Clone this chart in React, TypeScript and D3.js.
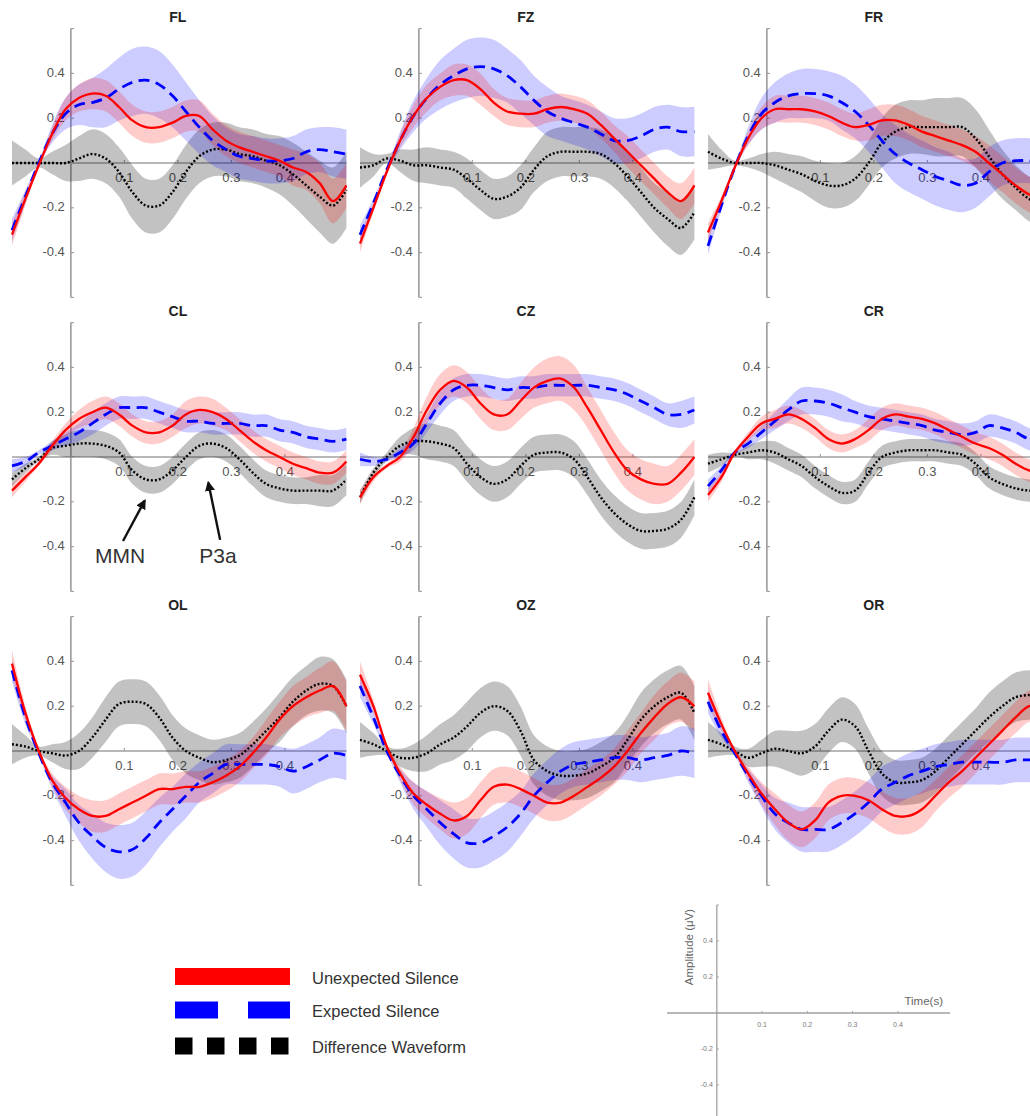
import React from 'react';
import * as d3 from 'd3';

const W = 1030;
const H = 1116;

// sample times (s) shared by every waveform
const TIMES = [-0.11, -0.085, -0.06, -0.035, -0.01, 0.015, 0.04, 0.065, 0.09, 0.115, 0.14, 0.165, 0.19,
  0.215, 0.24, 0.265, 0.29, 0.315, 0.34, 0.365, 0.39, 0.415, 0.44, 0.465, 0.49, 0.515];

const X_TICKS = [0.1, 0.2, 0.3, 0.4];
const Y_TICKS = [-0.6, -0.4, -0.2, 0, 0.2, 0.4, 0.6];
const Y_LABELS = [-0.4, -0.2, 0.2, 0.4];
const LEGEND = ['Unexpected Silence', 'Expected Silence', 'Difference Waveform'];

// ---- frontal ----
const FL_UNEXP = [-0.32, -0.16, -0.01, 0.13, 0.24, 0.29, 0.31, 0.30, 0.25, 0.19, 0.16, 0.16, 0.18, 0.21, 0.21, 0.15, 0.10, 0.07, 0.05, 0.03, 0.01, -0.02, -0.04, -0.09, -0.17, -0.10];
const FL_UNEXP_SE = [0.05, 0.03, 0.01, 0.03, 0.05, 0.06, 0.07, 0.07, 0.07, 0.07, 0.07, 0.07, 0.07, 0.07, 0.07, 0.07, 0.07, 0.07, 0.07, 0.07, 0.07, 0.08, 0.08, 0.09, 0.10, 0.10];
const FL_EXP = [-0.30, -0.15, 0.00, 0.13, 0.22, 0.26, 0.27, 0.29, 0.33, 0.36, 0.37, 0.35, 0.30, 0.23, 0.16, 0.10, 0.06, 0.03, 0.02, 0.01, 0.01, 0.02, 0.05, 0.06, 0.05, 0.04];
const FL_EXP_SE = [0.05, 0.03, 0.01, 0.04, 0.07, 0.09, 0.11, 0.13, 0.14, 0.15, 0.15, 0.15, 0.14, 0.13, 0.12, 0.11, 0.10, 0.10, 0.10, 0.10, 0.10, 0.10, 0.10, 0.10, 0.11, 0.11];
const FL_DIFF = [0.00, 0.00, 0.00, 0.00, 0.00, 0.02, 0.04, 0.02, -0.04, -0.13, -0.19, -0.19, -0.13, -0.04, 0.03, 0.06, 0.06, 0.04, 0.03, 0.01, -0.01, -0.05, -0.10, -0.15, -0.19, -0.12];
const FL_DIFF_SE = [0.10, 0.06, 0.02, 0.05, 0.08, 0.10, 0.11, 0.11, 0.11, 0.12, 0.12, 0.12, 0.12, 0.12, 0.12, 0.12, 0.12, 0.12, 0.12, 0.12, 0.13, 0.14, 0.15, 0.16, 0.17, 0.17];

const FZ_UNEXP = [-0.36, -0.20, -0.04, 0.10, 0.21, 0.29, 0.34, 0.37, 0.37, 0.33, 0.27, 0.23, 0.22, 0.22, 0.24, 0.25, 0.24, 0.22, 0.17, 0.11, 0.05, -0.01, -0.07, -0.13, -0.17, -0.10];
const FZ_UNEXP_SE = [0.04, 0.02, 0.01, 0.03, 0.05, 0.06, 0.06, 0.07, 0.07, 0.07, 0.06, 0.06, 0.06, 0.06, 0.06, 0.06, 0.06, 0.06, 0.06, 0.06, 0.07, 0.07, 0.07, 0.07, 0.08, 0.08];
const FZ_EXP = [-0.32, -0.18, -0.03, 0.10, 0.21, 0.29, 0.35, 0.39, 0.42, 0.43, 0.42, 0.39, 0.34, 0.28, 0.23, 0.20, 0.18, 0.16, 0.13, 0.10, 0.10, 0.12, 0.15, 0.16, 0.14, 0.14];
const FZ_EXP_SE = [0.04, 0.02, 0.01, 0.04, 0.07, 0.09, 0.11, 0.12, 0.13, 0.13, 0.13, 0.12, 0.12, 0.11, 0.11, 0.10, 0.10, 0.10, 0.10, 0.10, 0.10, 0.10, 0.10, 0.10, 0.11, 0.11];
const FZ_DIFF = [-0.02, -0.01, 0.02, 0.01, -0.01, -0.01, -0.02, -0.03, -0.07, -0.12, -0.16, -0.15, -0.11, -0.03, 0.03, 0.05, 0.05, 0.05, 0.04, 0.00, -0.06, -0.13, -0.20, -0.25, -0.29, -0.22];
const FZ_DIFF_SE = [0.09, 0.05, 0.02, 0.05, 0.07, 0.08, 0.08, 0.08, 0.09, 0.09, 0.09, 0.09, 0.10, 0.10, 0.11, 0.11, 0.11, 0.11, 0.11, 0.11, 0.11, 0.11, 0.11, 0.12, 0.12, 0.12];

const FR_UNEXP = [-0.31, -0.17, -0.02, 0.11, 0.20, 0.24, 0.24, 0.24, 0.23, 0.21, 0.18, 0.16, 0.17, 0.19, 0.19, 0.17, 0.14, 0.12, 0.10, 0.08, 0.05, 0.00, -0.05, -0.10, -0.14, -0.16];
const FR_UNEXP_SE = [0.04, 0.02, 0.01, 0.03, 0.05, 0.06, 0.06, 0.06, 0.06, 0.06, 0.06, 0.06, 0.07, 0.07, 0.07, 0.07, 0.07, 0.07, 0.07, 0.07, 0.07, 0.08, 0.08, 0.08, 0.08, 0.08];
const FR_EXP = [-0.37, -0.19, -0.02, 0.12, 0.22, 0.27, 0.30, 0.31, 0.31, 0.30, 0.27, 0.23, 0.17, 0.10, 0.04, 0.00, -0.03, -0.06, -0.08, -0.10, -0.09, -0.04, 0.00, 0.01, 0.01, 0.00];
const FR_EXP_SE = [0.04, 0.02, 0.01, 0.04, 0.07, 0.09, 0.10, 0.11, 0.11, 0.11, 0.12, 0.12, 0.12, 0.12, 0.13, 0.13, 0.13, 0.13, 0.13, 0.12, 0.11, 0.11, 0.10, 0.10, 0.10, 0.10];
const FR_DIFF = [0.05, 0.02, 0.00, 0.00, 0.00, -0.01, -0.03, -0.05, -0.08, -0.10, -0.10, -0.07, 0.00, 0.09, 0.14, 0.16, 0.16, 0.16, 0.16, 0.16, 0.11, 0.03, -0.05, -0.11, -0.16, -0.18];
const FR_DIFF_SE = [0.08, 0.04, 0.01, 0.02, 0.04, 0.06, 0.07, 0.08, 0.09, 0.10, 0.10, 0.10, 0.10, 0.11, 0.12, 0.12, 0.12, 0.13, 0.13, 0.13, 0.13, 0.12, 0.11, 0.10, 0.10, 0.10];

// ---- central ----
const CL_UNEXP = [-0.15, -0.09, -0.03, 0.05, 0.12, 0.17, 0.20, 0.22, 0.19, 0.14, 0.11, 0.11, 0.14, 0.19, 0.21, 0.20, 0.17, 0.12, 0.07, 0.03, 0.00, -0.03, -0.05, -0.07, -0.07, -0.02];
const CL_UNEXP_SE = [0.03, 0.02, 0.01, 0.02, 0.03, 0.04, 0.05, 0.05, 0.05, 0.05, 0.05, 0.05, 0.05, 0.06, 0.06, 0.06, 0.05, 0.05, 0.05, 0.05, 0.05, 0.05, 0.05, 0.05, 0.05, 0.05];
const CL_EXP = [-0.04, -0.02, 0.02, 0.05, 0.08, 0.11, 0.15, 0.19, 0.22, 0.22, 0.22, 0.20, 0.18, 0.16, 0.16, 0.15, 0.15, 0.15, 0.14, 0.14, 0.12, 0.11, 0.09, 0.08, 0.07, 0.08];
const CL_EXP_SE = [0.03, 0.02, 0.01, 0.02, 0.03, 0.04, 0.05, 0.05, 0.05, 0.05, 0.05, 0.05, 0.05, 0.05, 0.05, 0.05, 0.05, 0.05, 0.05, 0.05, 0.05, 0.05, 0.05, 0.05, 0.05, 0.05];
const CL_DIFF = [-0.10, -0.05, -0.01, 0.04, 0.05, 0.06, 0.06, 0.05, 0.02, -0.06, -0.10, -0.10, -0.06, 0.00, 0.05, 0.06, 0.04, -0.01, -0.07, -0.12, -0.14, -0.15, -0.15, -0.15, -0.15, -0.10];
const CL_DIFF_SE = [0.03, 0.02, 0.01, 0.03, 0.05, 0.06, 0.06, 0.06, 0.06, 0.06, 0.06, 0.06, 0.06, 0.06, 0.06, 0.06, 0.06, 0.06, 0.06, 0.06, 0.06, 0.06, 0.06, 0.07, 0.07, 0.07];

const CZ_UNEXP = [-0.18, -0.09, -0.04, 0.00, 0.09, 0.21, 0.30, 0.34, 0.31, 0.24, 0.19, 0.19, 0.25, 0.31, 0.34, 0.35, 0.31, 0.22, 0.12, 0.02, -0.06, -0.10, -0.12, -0.12, -0.07, 0.00];
const CZ_UNEXP_SE = [0.03, 0.02, 0.01, 0.02, 0.04, 0.06, 0.07, 0.07, 0.07, 0.07, 0.07, 0.07, 0.08, 0.09, 0.10, 0.10, 0.10, 0.09, 0.09, 0.09, 0.09, 0.09, 0.09, 0.08, 0.08, 0.08];
const CZ_EXP = [-0.01, -0.02, -0.01, 0.02, 0.06, 0.15, 0.24, 0.30, 0.32, 0.32, 0.31, 0.30, 0.31, 0.31, 0.32, 0.32, 0.32, 0.32, 0.31, 0.30, 0.28, 0.25, 0.22, 0.19, 0.19, 0.21];
const CZ_EXP_SE = [0.03, 0.02, 0.01, 0.02, 0.03, 0.04, 0.05, 0.05, 0.05, 0.05, 0.05, 0.05, 0.05, 0.05, 0.05, 0.05, 0.05, 0.05, 0.05, 0.05, 0.05, 0.05, 0.05, 0.05, 0.06, 0.06];
const CZ_DIFF = [-0.18, -0.07, 0.00, 0.05, 0.07, 0.07, 0.06, 0.04, -0.03, -0.09, -0.12, -0.10, -0.04, 0.01, 0.02, 0.02, -0.01, -0.09, -0.18, -0.25, -0.30, -0.33, -0.33, -0.32, -0.28, -0.18];
const CZ_DIFF_SE = [0.03, 0.02, 0.02, 0.04, 0.06, 0.08, 0.08, 0.08, 0.08, 0.08, 0.08, 0.08, 0.08, 0.08, 0.08, 0.08, 0.08, 0.08, 0.08, 0.08, 0.08, 0.08, 0.08, 0.08, 0.08, 0.08];

const CR_UNEXP = [-0.17, -0.09, 0.02, 0.09, 0.15, 0.17, 0.19, 0.17, 0.13, 0.08, 0.06, 0.08, 0.12, 0.17, 0.19, 0.18, 0.17, 0.15, 0.12, 0.09, 0.06, 0.04, 0.01, -0.03, -0.06, -0.07];
const CR_UNEXP_SE = [0.03, 0.02, 0.01, 0.02, 0.03, 0.04, 0.04, 0.04, 0.04, 0.04, 0.04, 0.04, 0.05, 0.05, 0.05, 0.05, 0.05, 0.05, 0.05, 0.05, 0.05, 0.05, 0.05, 0.05, 0.05, 0.05];
const CR_EXP = [-0.13, -0.06, 0.02, 0.06, 0.11, 0.16, 0.21, 0.25, 0.25, 0.24, 0.22, 0.20, 0.18, 0.17, 0.16, 0.15, 0.14, 0.12, 0.11, 0.10, 0.11, 0.14, 0.13, 0.11, 0.08, 0.07];
const CR_EXP_SE = [0.03, 0.02, 0.01, 0.02, 0.03, 0.04, 0.05, 0.06, 0.06, 0.06, 0.06, 0.05, 0.05, 0.05, 0.05, 0.05, 0.05, 0.05, 0.05, 0.05, 0.05, 0.05, 0.05, 0.05, 0.05, 0.05];
const CR_DIFF = [-0.03, -0.01, 0.01, 0.02, 0.03, 0.02, -0.01, -0.04, -0.09, -0.13, -0.16, -0.15, -0.07, 0.00, 0.02, 0.03, 0.03, 0.03, 0.02, 0.01, -0.03, -0.09, -0.12, -0.14, -0.15, -0.15];
const CR_DIFF_SE = [0.04, 0.03, 0.01, 0.03, 0.04, 0.05, 0.05, 0.05, 0.05, 0.05, 0.05, 0.05, 0.05, 0.05, 0.05, 0.05, 0.05, 0.05, 0.05, 0.05, 0.05, 0.05, 0.05, 0.05, 0.05, 0.05];

// ---- occipital ----
const OL_UNEXP = [0.39, 0.17, 0.00, -0.13, -0.21, -0.26, -0.29, -0.29, -0.26, -0.23, -0.20, -0.17, -0.17, -0.16, -0.16, -0.14, -0.11, -0.07, -0.01, 0.06, 0.14, 0.20, 0.24, 0.27, 0.29, 0.20];
const OL_UNEXP_SE = [0.06, 0.03, 0.01, 0.03, 0.05, 0.06, 0.07, 0.07, 0.07, 0.07, 0.07, 0.07, 0.07, 0.07, 0.07, 0.07, 0.07, 0.07, 0.07, 0.08, 0.08, 0.09, 0.09, 0.10, 0.11, 0.11];
const OL_EXP = [0.36, 0.15, -0.01, -0.14, -0.23, -0.32, -0.38, -0.43, -0.45, -0.44, -0.39, -0.32, -0.26, -0.20, -0.14, -0.10, -0.06, -0.06, -0.06, -0.06, -0.07, -0.09, -0.07, -0.04, -0.01, -0.02];
const OL_EXP_SE = [0.05, 0.03, 0.01, 0.03, 0.06, 0.08, 0.10, 0.11, 0.12, 0.12, 0.12, 0.11, 0.10, 0.10, 0.09, 0.09, 0.09, 0.09, 0.09, 0.09, 0.09, 0.10, 0.10, 0.10, 0.11, 0.11];
const OL_DIFF = [0.03, 0.02, 0.00, -0.01, -0.02, 0.00, 0.06, 0.14, 0.21, 0.22, 0.21, 0.15, 0.06, 0.00, -0.03, -0.05, -0.04, -0.02, 0.03, 0.09, 0.15, 0.22, 0.27, 0.30, 0.29, 0.20];
const OL_DIFF_SE = [0.09, 0.05, 0.02, 0.04, 0.06, 0.08, 0.09, 0.10, 0.10, 0.10, 0.10, 0.10, 0.10, 0.10, 0.10, 0.10, 0.10, 0.10, 0.10, 0.10, 0.11, 0.11, 0.11, 0.12, 0.12, 0.12];

const OZ_UNEXP = [0.34, 0.20, 0.02, -0.10, -0.19, -0.24, -0.28, -0.31, -0.29, -0.22, -0.16, -0.15, -0.17, -0.20, -0.23, -0.23, -0.20, -0.16, -0.12, -0.07, 0.00, 0.08, 0.15, 0.21, 0.24, 0.20];
const OZ_UNEXP_SE = [0.06, 0.03, 0.01, 0.03, 0.05, 0.06, 0.07, 0.08, 0.08, 0.08, 0.08, 0.08, 0.08, 0.08, 0.08, 0.08, 0.08, 0.08, 0.08, 0.08, 0.09, 0.09, 0.10, 0.10, 0.11, 0.11];
const OZ_EXP = [0.29, 0.15, 0.00, -0.11, -0.20, -0.26, -0.32, -0.37, -0.41, -0.41, -0.38, -0.34, -0.28, -0.20, -0.14, -0.09, -0.06, -0.05, -0.04, -0.03, -0.03, -0.04, -0.03, -0.02, 0.00, -0.01];
const OZ_EXP_SE = [0.05, 0.03, 0.01, 0.03, 0.06, 0.08, 0.10, 0.11, 0.11, 0.11, 0.11, 0.11, 0.10, 0.10, 0.10, 0.10, 0.10, 0.10, 0.10, 0.10, 0.10, 0.10, 0.10, 0.10, 0.11, 0.11];
const OZ_DIFF = [0.05, 0.03, 0.00, -0.03, -0.03, -0.01, 0.03, 0.06, 0.11, 0.17, 0.20, 0.18, 0.09, -0.04, -0.09, -0.11, -0.11, -0.10, -0.07, -0.03, 0.05, 0.14, 0.20, 0.24, 0.26, 0.17];
const OZ_DIFF_SE = [0.08, 0.05, 0.02, 0.04, 0.06, 0.08, 0.09, 0.10, 0.11, 0.11, 0.11, 0.11, 0.11, 0.11, 0.11, 0.11, 0.11, 0.11, 0.11, 0.11, 0.11, 0.12, 0.12, 0.12, 0.12, 0.12];

const OR_UNEXP = [0.26, 0.12, 0.00, -0.10, -0.19, -0.26, -0.32, -0.35, -0.31, -0.23, -0.20, -0.20, -0.22, -0.26, -0.29, -0.29, -0.26, -0.20, -0.14, -0.09, -0.03, 0.03, 0.09, 0.15, 0.20, 0.20];
const OR_UNEXP_SE = [0.06, 0.03, 0.01, 0.03, 0.05, 0.07, 0.08, 0.08, 0.08, 0.08, 0.08, 0.08, 0.08, 0.08, 0.08, 0.08, 0.08, 0.07, 0.07, 0.07, 0.07, 0.07, 0.07, 0.07, 0.07, 0.07];
const OR_EXP = [0.22, 0.09, -0.01, -0.11, -0.20, -0.28, -0.32, -0.35, -0.35, -0.35, -0.32, -0.28, -0.23, -0.17, -0.14, -0.11, -0.09, -0.07, -0.06, -0.05, -0.05, -0.05, -0.05, -0.04, -0.04, -0.04];
const OR_EXP_SE = [0.05, 0.03, 0.01, 0.03, 0.05, 0.07, 0.09, 0.10, 0.10, 0.10, 0.10, 0.10, 0.10, 0.10, 0.10, 0.10, 0.10, 0.10, 0.10, 0.10, 0.10, 0.10, 0.10, 0.10, 0.10, 0.10];
const OR_DIFF = [0.05, 0.03, 0.00, -0.03, -0.01, 0.01, 0.00, -0.01, 0.02, 0.09, 0.14, 0.11, 0.00, -0.10, -0.14, -0.14, -0.13, -0.09, -0.03, 0.03, 0.09, 0.15, 0.20, 0.24, 0.25, 0.25];
const OR_DIFF_SE = [0.08, 0.05, 0.02, 0.04, 0.06, 0.08, 0.09, 0.10, 0.10, 0.10, 0.10, 0.10, 0.10, 0.10, 0.10, 0.10, 0.10, 0.10, 0.10, 0.10, 0.10, 0.11, 0.11, 0.11, 0.11, 0.11];

const PANELS = [
  { name: 'FL', unexp: [FL_UNEXP, FL_UNEXP_SE], exp: [FL_EXP, FL_EXP_SE], diff: [FL_DIFF, FL_DIFF_SE] },
  { name: 'FZ', unexp: [FZ_UNEXP, FZ_UNEXP_SE], exp: [FZ_EXP, FZ_EXP_SE], diff: [FZ_DIFF, FZ_DIFF_SE] },
  { name: 'FR', unexp: [FR_UNEXP, FR_UNEXP_SE], exp: [FR_EXP, FR_EXP_SE], diff: [FR_DIFF, FR_DIFF_SE] },
  { name: 'CL', unexp: [CL_UNEXP, CL_UNEXP_SE], exp: [CL_EXP, CL_EXP_SE], diff: [CL_DIFF, CL_DIFF_SE] },
  { name: 'CZ', unexp: [CZ_UNEXP, CZ_UNEXP_SE], exp: [CZ_EXP, CZ_EXP_SE], diff: [CZ_DIFF, CZ_DIFF_SE] },
  { name: 'CR', unexp: [CR_UNEXP, CR_UNEXP_SE], exp: [CR_EXP, CR_EXP_SE], diff: [CR_DIFF, CR_DIFF_SE] },
  { name: 'OL', unexp: [OL_UNEXP, OL_UNEXP_SE], exp: [OL_EXP, OL_EXP_SE], diff: [OL_DIFF, OL_DIFF_SE] },
  { name: 'OZ', unexp: [OZ_UNEXP, OZ_UNEXP_SE], exp: [OZ_EXP, OZ_EXP_SE], diff: [OZ_DIFF, OZ_DIFF_SE] },
  { name: 'OR', unexp: [OR_UNEXP, OR_UNEXP_SE], exp: [OR_EXP, OR_EXP_SE], diff: [OR_DIFF, OR_DIFF_SE] },
];

// drawing order: difference first, red on top
const STYLES = [
  { key: 'diff', stroke: '#000', band: 'rgba(0,0,0,0.24)', width: 2.4, dash: '2,2' },
  { key: 'exp', stroke: '#0000ff', band: 'rgba(0,0,255,0.2)', width: 2.8, dash: '11,6.5' },
  { key: 'unexp', stroke: '#ff0000', band: 'rgba(255,0,0,0.2)', width: 2.3, dash: null },
];

const COL_STEP = 348;
const ROW_STEP = 294;
const LEFT = 12;
const PLOT_W = 334.4;
const ZERO_TOP = 163;
const HALF_H = 134.4;

const FONT = 'Liberation Sans, Arial, sans-serif';
const AXIS_GREY = '#a0a0a0';
const LABEL_GREY = '#555';

function Panel({ p, col, row }: any) {
  const x = d3.scaleLinear()
    .domain([TIMES[0], TIMES[TIMES.length - 1]])
    .range([LEFT + col * COL_STEP, LEFT + col * COL_STEP + PLOT_W]);
  const zero = ZERO_TOP + row * ROW_STEP;
  const y = d3.scaleLinear().domain([-0.6, 0.6]).range([zero + HALF_H, zero - HALF_H]);

  const line = d3.line<number>()
    .x((_, i) => x(TIMES[i]))
    .y(d => y(d))
    .curve(d3.curveCatmullRom);

  const band = (m: number[], se: number[]) => d3.area<number>()
    .x((_, i) => x(TIMES[i]))
    .y0((d, i) => y(d - se[i]))
    .y1((d, i) => y(d + se[i]))
    .curve(d3.curveCatmullRom)(m);

  const x0 = x(0);

  return (
    <g>
      <text x={x(0.2)} y={zero - 145} textAnchor="middle" dominantBaseline="middle"
        fontFamily={FONT} fontWeight="bold" fontSize={14} fill="#222">{p.name}</text>

      {/* axes through the origin */}
      <line x1={x.range()[0]} x2={x.range()[1]} y1={y(0)} y2={y(0)} stroke={AXIS_GREY} strokeWidth={1.7} />
      <line x1={x0} x2={x0} y1={y(0.6)} y2={y(-0.6)} stroke={AXIS_GREY} strokeWidth={1.7} />
      {Y_TICKS.map(t => (
        <line key={t} x1={x0} x2={x0 + 3} y1={y(t)} y2={y(t)} stroke={AXIS_GREY} strokeWidth={1.2} />
      ))}
      {Y_LABELS.map(t => (
        <text key={t} x={x0 - 6} y={y(t)} textAnchor="end" dominantBaseline="middle"
          fontFamily={FONT} fontSize={13} fill={LABEL_GREY}>{t.toFixed(1)}</text>
      ))}
      {X_TICKS.map(t => (
        <g key={t}>
          <line x1={x(t)} x2={x(t)} y1={y(0)} y2={y(0) - 3} stroke={AXIS_GREY} strokeWidth={1.2} />
          <text x={x(t)} y={y(0) + 16} textAnchor="middle" dominantBaseline="middle"
            fontFamily={FONT} fontSize={13} fill={LABEL_GREY}>{t.toFixed(1)}</text>
        </g>
      ))}

      {STYLES.map(s => (
        <path key={s.key + 'b'} d={band(p[s.key][0], p[s.key][1]) || ''} fill={s.band} stroke="none" />
      ))}
      {STYLES.map(s => (
        <path key={s.key} d={line(p[s.key][0]) || ''} fill="none" stroke={s.stroke}
          strokeWidth={s.width} strokeDasharray={s.dash || undefined} />
      ))}

      {p.name === 'CL' && (
        <g fontFamily={FONT} fontSize={21} fill="#333">
          <line x1={x(0.0975)} y1={y(-0.375)} x2={x(0.138)} y2={y(-0.195)} stroke="#111" strokeWidth={2.4} markerEnd="url(#arrow)" />
          <line x1={x(0.279)} y1={y(-0.37)} x2={x(0.257)} y2={y(-0.115)} stroke="#111" strokeWidth={2.4} markerEnd="url(#arrow)" />
          <text x={x(0.092)} y={y(-0.45)} textAnchor="middle" dominantBaseline="middle">MMN</text>
          <text x={x(0.275)} y={y(-0.45)} textAnchor="middle" dominantBaseline="middle">P3a</text>
        </g>
      )}
    </g>
  );
}

function ExampleAxes() {
  const x = d3.scaleLinear().domain([TIMES[0], TIMES[TIMES.length - 1]]).range([667, 950]);
  const y = d3.scaleLinear().domain([-0.6, 0.6]).range([1121, 905]);
  const x0 = x(0);
  return (
    <g fontFamily={FONT} fill="#777">
      <line x1={x.range()[0]} x2={x.range()[1]} y1={y(0)} y2={y(0)} stroke={AXIS_GREY} strokeWidth={1.3} />
      <line x1={x0} x2={x0} y1={y(0.6)} y2={y(-0.6)} stroke={AXIS_GREY} strokeWidth={1.3} />
      {Y_TICKS.map(t => (
        <line key={t} x1={x0} x2={x0 + 2} y1={y(t)} y2={y(t)} stroke={AXIS_GREY} strokeWidth={1} />
      ))}
      {Y_LABELS.map(t => (
        <text key={t} x={x0 - 4} y={y(t)} textAnchor="end" dominantBaseline="middle" fontSize={7}>{t.toFixed(1)}</text>
      ))}
      {X_TICKS.map(t => (
        <g key={t}>
          <line x1={x(t)} x2={x(t)} y1={y(0)} y2={y(0) - 2} stroke={AXIS_GREY} strokeWidth={1} />
          <text x={x(t)} y={y(0) + 12} textAnchor="middle" dominantBaseline="middle" fontSize={7}>{t.toFixed(1)}</text>
        </g>
      ))}
      <text x={943} y={1002} textAnchor="end" dominantBaseline="middle" fontSize={11.5} fill="#666">Time(s)</text>
      <text transform="translate(690,947) rotate(-90)" textAnchor="middle" dominantBaseline="middle"
        fontSize={11.5} fill="#666">Amplitude (μV)</text>
    </g>
  );
}

function Legend() {
  const ys = [976.5, 1010, 1046];
  const dashes = [null, '43,30', '17.5,14.5'];
  const colors = ['#ff0000', '#0000ff', '#000000'];
  return (
    <g fontFamily={FONT}>
      {LEGEND.map((label, i) => (
        <g key={label}>
          <line x1={175} x2={290} y1={ys[i]} y2={ys[i]} stroke={colors[i]} strokeWidth={17}
            strokeDasharray={dashes[i] || undefined} />
          <text x={312} y={ys[i] + 3} dominantBaseline="middle" fontSize={16.5} fill="#333">{label}</text>
        </g>
      ))}
    </g>
  );
}

export default function App() {
  return (
    <svg width={W} height={H} style={{ position: 'absolute', left: 0, top: 0, background: '#fff' }}>
      <defs>
        <marker id="arrow" viewBox="0 0 10 10" refX="8" refY="5" markerWidth="4.2" markerHeight="4.2"
          orient="auto" markerUnits="strokeWidth">
          <path d="M0,0 L10,5 L0,10 z" fill="#111" />
        </marker>
      </defs>
      <rect width={W} height={H} fill="#fff" />
      {PANELS.map((p, i) => (
        <Panel key={p.name} p={p} col={i % 3} row={Math.floor(i / 3)} />
      ))}
      <Legend />
      <ExampleAxes />
    </svg>
  );
}
